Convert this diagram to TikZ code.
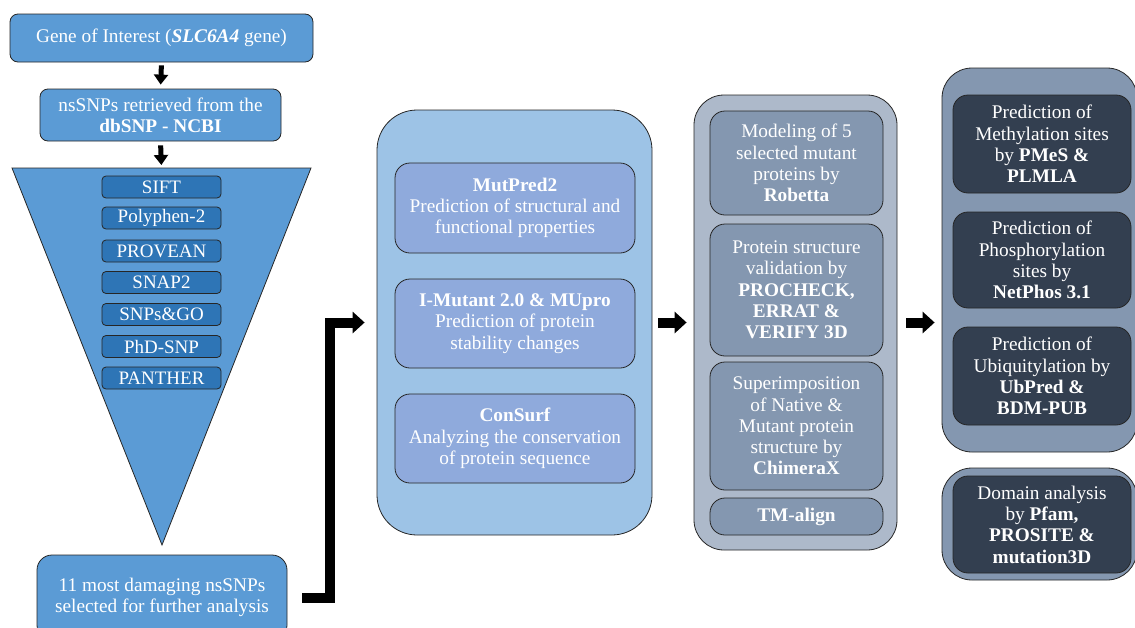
\documentclass[tikz,border=0pt]{standalone}
\usepackage{fontspec}
\setmainfont{Liberation Serif}
\usetikzlibrary{arrows.meta}
\definecolor{bluemain}{HTML}{5B9BD5}
\definecolor{bluedark}{HTML}{2E75B6}
\definecolor{midpanel}{HTML}{9DC3E6}
\definecolor{midinner}{HTML}{8FAADC}
\definecolor{grpanel}{HTML}{ADB9CA}
\definecolor{grinner}{HTML}{8497B0}
\definecolor{navy}{HTML}{333F50}
\definecolor{edge}{HTML}{262626}
\tikzset{
  base/.style={draw=edge, line width=0.8pt, text=white, align=center, inner sep=1pt,
    font=\fontsize{19.3}{21.3}\selectfont},
  bluebox/.style={base, fill=bluemain, rounded corners=8pt},
  toolbox/.style={base, fill=bluedark, rounded corners=4pt, minimum width=119pt, minimum height=22pt,
    inner sep=0pt, font=\fontsize{19}{19}\selectfont},
  panelA/.style={draw=edge, line width=0.8pt, fill=midpanel, rounded corners=40pt},
  innerA/.style={base, fill=midinner, rounded corners=15pt, minimum width=240pt},
  panelB/.style={draw=edge, line width=0.8pt, fill=grpanel, rounded corners=30pt},
  innerB/.style={base, fill=grinner, rounded corners=15pt, minimum width=173pt},
  panelC/.style={draw=edge, line width=0.8pt, fill=grinner, rounded corners=30pt},
  innerC/.style={base, fill=navy, rounded corners=15pt, minimum width=178pt},
  downarrow/.style={line width=5pt, -{Triangle[length=10pt,width=14pt]}},
  blockarrow/.style={line width=10pt, -{Triangle[length=12pt,width=21pt]}},
}
\begin{document}
\begin{tikzpicture}[x=1pt,y=-1pt]
\useasboundingbox (0,0) rectangle (1135,627);
\clip (0,0) rectangle (1135,627);
% left column
\node[bluebox, minimum width=303pt, minimum height=48pt] (gene) at (161.5,38)
  {Gene of Interest (\textbf{\textit{SLC6A4}} gene)};
\node[bluebox, minimum width=241pt, minimum height=52pt] (ns) at (160.5,115)
  {nsSNPs retrieved from the\\\textbf{dbSNP - NCBI}};
\path[draw=edge, line width=0.8pt, fill=bluemain] (12,168) coordinate (tl) -- (311,168) coordinate (tr) -- (162,545) coordinate (tip) -- cycle;
\node[toolbox] (sift) at (161.5,187) {SIFT};
\node[toolbox] (poly) at (161.5,218) {Polyphen-2};
\node[toolbox] (prov) at (161.5,251) {PROVEAN};
\node[toolbox] (snap) at (161.5,282.5) {SNAP2};
\node[toolbox] (sgo) at (161.5,314.5) {SNPs\&GO};
\node[toolbox] (phd) at (161.5,346.5) {PhD-SNP};
\node[toolbox] (pan) at (161.5,378) {PANTHER};
\node[bluebox, rounded corners=15pt, minimum width=250pt, minimum height=85pt] (sel) at (162,597.5)
  {11 most damaging nsSNPs\\selected for further analysis};
\coordinate (tritop) at (161.5,168);
\draw[downarrow, shorten <=3pt, shorten >=4pt] (gene.south) -- (ns.north);
\draw[downarrow, shorten <=4pt, shorten >=3pt] (ns.south) -- (tritop);
% middle panel
\node[panelA, minimum width=275pt, minimum height=425pt] (mid) at (514.5,322.5) {};
\node[innerA, minimum height=90pt] (mp) at (515,208)
  {\textbf{MutPred2}\\Prediction of structural and\\functional properties};
\node[innerA, minimum height=89pt] (im) at (515,323.5)
  {\textbf{I-Mutant 2.0 \& MUpro}\\Prediction of protein\\stability changes};
\node[innerA, minimum height=89pt] (cs) at (515,438.5)
  {\textbf{ConSurf}\\Analyzing the conservation\\of protein sequence};
% panel 3
\node[panelB, minimum width=203pt, minimum height=455pt] (p3) at (795.5,322.5) {};
\node[innerB, minimum height=104pt] (rob) at (796.5,163)
  {Modeling of 5\\selected mutant\\proteins by\\\textbf{Robetta}};
\node[innerB, minimum height=132pt] (val) at (796.5,290)
  {Protein structure\\validation by\\\textbf{PROCHECK,}\\\textbf{ERRAT \&}\\\textbf{VERIFY 3D}};
\node[innerB, minimum height=128pt] (sup) at (796.5,426)
  {Superimposition\\of Native \&\\Mutant protein\\structure by\\\textbf{ChimeraX}};
\node[innerB, minimum height=37pt] (tm) at (796.5,516.5) {\textbf{TM-align}};
% panel 4
\node[panelC, minimum width=195pt, minimum height=384pt] (p4) at (1039.5,260) {};
\node[innerC, minimum height=98pt] (meth) at (1042,144)
  {Prediction of\\Methylation sites\\by \textbf{PMeS \&}\\\textbf{PLMLA}};
\node[innerC, minimum height=96pt] (phos) at (1042,260)
  {Prediction of\\Phosphorylation\\sites by\\\textbf{NetPhos 3.1}};
\node[innerC, minimum height=98pt] (ubi) at (1042,376)
  {Prediction of\\Ubiquitylation by\\\textbf{UbPred \&}\\\textbf{BDM-PUB}};
\node[panelC, minimum width=195pt, minimum height=112pt] (p5) at (1039.5,524) {};
\node[innerC, minimum height=97pt] (dom) at (1042,524.5)
  {Domain analysis\\by \textbf{Pfam,}\\\textbf{PROSITE \&}\\\textbf{mutation3D}};
% connectors
\draw[blockarrow, shorten <=15pt, shorten >=12pt] (sel.east) -- ++(43,0) |- (mid.west);
\draw[blockarrow, shorten <=6pt, shorten >=7pt] (mid.east) -- (mid.east -| p3.west);
\draw[blockarrow, shorten <=9pt, shorten >=7pt] (p3.east) -- (p3.east -| p4.west);
\end{tikzpicture}
\end{document}
